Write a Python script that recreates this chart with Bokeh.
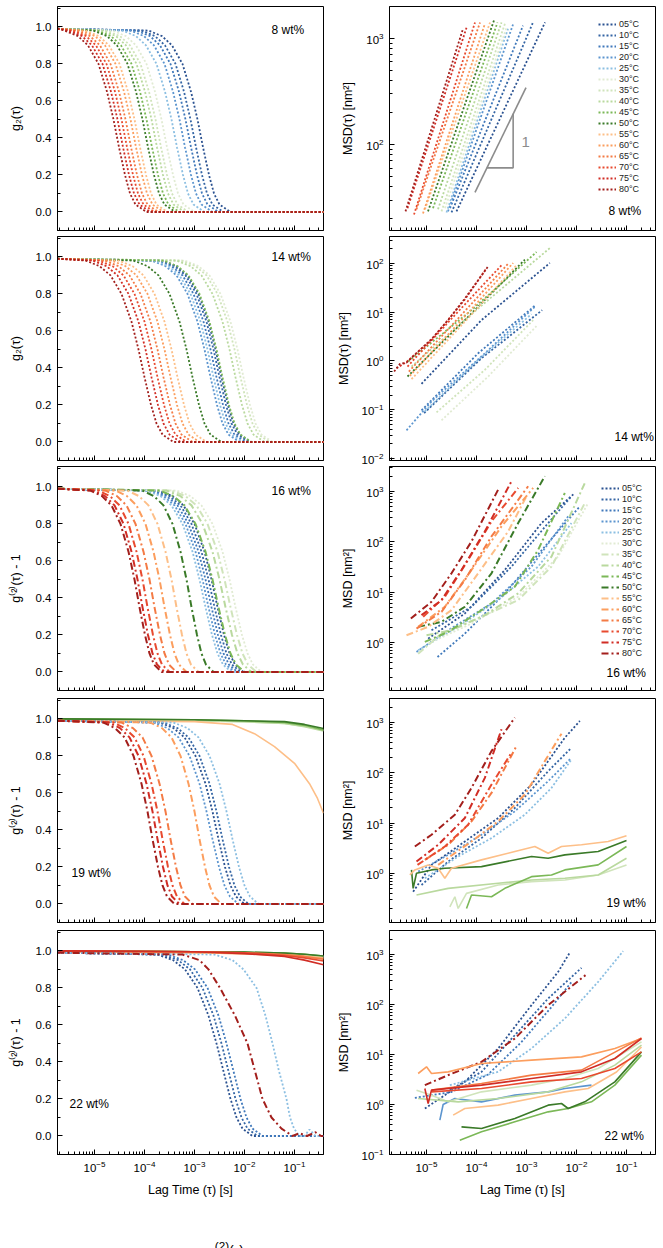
import numpy as np
from bokeh.plotting import figure
from bokeh.models import (Range1d, FixedTicker, Label, Legend, LegendItem,
                          PrintfTickFormatter, Div)
from bokeh.layouts import gridplot, column
from bokeh.embed import file_html
from bokeh.resources import INLINE

FONT = "Liberation Sans"
X_LO, X_HI = 10 ** -5.74, 10 ** -0.42

# ---------------------------------------------------------------- series keys
temps = ["05", "10", "15", "20", "25", "30", "35", "40",
         "45", "50", "55", "60", "65", "70", "75", "80"]
temp_colors = ["#2b5291", "#3465a4", "#4079bb", "#5c95cf", "#8cbfe2", "#e1ebd3",
               "#d0e4bb", "#b9d99e", "#7bb857", "#3a7a28", "#fdbf88", "#fc9e5e",
               "#f47b45", "#e84a2f", "#d12d25", "#a31f1c"]
COLOR = dict(zip(temps, temp_colors))

# ---------------------------------------------------------------- g2 decays
# lag times (log10 s) at which each curve crosses the levels below
g2_levels = [0.98, 0.95, 0.90, 0.80, 0.65, 0.50, 0.35, 0.20, 0.10, 0.04, 0.00]
g2_plateau = 0.99

g2_08_logtau = [
    [-3.92, -3.65, -3.45, -3.24, -3.07, -2.94, -2.83, -2.71, -2.61, -2.50, -2.28],
    [-4.06, -3.79, -3.59, -3.38, -3.21, -3.08, -2.97, -2.85, -2.75, -2.64, -2.42],
    [-4.16, -3.89, -3.69, -3.48, -3.31, -3.18, -3.07, -2.95, -2.85, -2.74, -2.52],
    [-4.28, -4.01, -3.81, -3.60, -3.43, -3.30, -3.19, -3.07, -2.97, -2.86, -2.64],
    [-4.44, -4.17, -3.97, -3.76, -3.59, -3.46, -3.35, -3.23, -3.13, -3.02, -2.80],
    [-4.64, -4.37, -4.17, -3.96, -3.79, -3.66, -3.55, -3.43, -3.33, -3.22, -3.00],
    [-4.76, -4.49, -4.29, -4.08, -3.91, -3.78, -3.67, -3.55, -3.45, -3.34, -3.12],
    [-4.84, -4.57, -4.37, -4.16, -3.99, -3.86, -3.75, -3.63, -3.53, -3.42, -3.20],
    [-4.94, -4.67, -4.47, -4.26, -4.09, -3.96, -3.85, -3.73, -3.63, -3.52, -3.30],
    [-5.02, -4.75, -4.55, -4.34, -4.17, -4.04, -3.93, -3.81, -3.71, -3.60, -3.38],
    [-5.18, -4.91, -4.71, -4.50, -4.33, -4.20, -4.09, -3.97, -3.87, -3.76, -3.54],
    [-5.26, -4.99, -4.79, -4.58, -4.41, -4.28, -4.17, -4.05, -3.95, -3.84, -3.62],
    [-5.36, -5.09, -4.89, -4.68, -4.51, -4.38, -4.27, -4.15, -4.05, -3.94, -3.72],
    [-5.44, -5.17, -4.97, -4.76, -4.59, -4.46, -4.35, -4.23, -4.13, -4.02, -3.80],
    [-5.52, -5.25, -5.05, -4.84, -4.67, -4.54, -4.43, -4.31, -4.21, -4.10, -3.88],
    [-5.60, -5.33, -5.13, -4.92, -4.75, -4.62, -4.51, -4.39, -4.29, -4.18, -3.96],
]

g2_14_logtau = [
    [-3.64, -3.36, -3.14, -2.92, -2.72, -2.58, -2.46, -2.33, -2.22, -2.10, -1.88],
    [-3.68, -3.40, -3.18, -2.96, -2.76, -2.62, -2.50, -2.37, -2.26, -2.14, -1.92],
    [-3.74, -3.46, -3.24, -3.02, -2.82, -2.68, -2.56, -2.43, -2.32, -2.20, -1.98],
    [-3.86, -3.58, -3.36, -3.14, -2.94, -2.80, -2.68, -2.55, -2.44, -2.32, -2.10],
    [-3.80, -3.52, -3.30, -3.08, -2.88, -2.74, -2.62, -2.49, -2.38, -2.26, -2.04],
    [-3.20, -2.92, -2.70, -2.48, -2.28, -2.14, -2.02, -1.89, -1.78, -1.66, -1.44],
    [-3.26, -2.98, -2.76, -2.54, -2.34, -2.20, -2.08, -1.95, -1.84, -1.72, -1.50],
    [-3.36, -3.08, -2.86, -2.64, -2.44, -2.30, -2.18, -2.05, -1.94, -1.82, -1.60],
    [-3.62, -3.34, -3.12, -2.90, -2.70, -2.56, -2.44, -2.31, -2.20, -2.08, -1.86],
    [-4.22, -3.94, -3.72, -3.50, -3.30, -3.16, -3.04, -2.91, -2.80, -2.68, -2.46],
    [-4.52, -4.24, -4.02, -3.80, -3.60, -3.46, -3.34, -3.21, -3.10, -2.98, -2.76],
    [-4.66, -4.38, -4.16, -3.94, -3.74, -3.60, -3.48, -3.35, -3.24, -3.12, -2.90],
    [-4.80, -4.52, -4.30, -4.08, -3.88, -3.74, -3.62, -3.49, -3.38, -3.26, -3.04],
    [-4.92, -4.64, -4.42, -4.20, -4.00, -3.86, -3.74, -3.61, -3.50, -3.38, -3.16],
    [-5.04, -4.76, -4.54, -4.32, -4.12, -3.98, -3.86, -3.73, -3.62, -3.50, -3.28],
    [-5.18, -4.90, -4.68, -4.46, -4.26, -4.12, -4.00, -3.87, -3.76, -3.64, -3.42],
]

g2_16_logtau = [
    [-3.72, -3.44, -3.22, -3.00, -2.80, -2.66, -2.54, -2.41, -2.30, -2.19, -2.02],
    [-3.78, -3.50, -3.28, -3.06, -2.86, -2.72, -2.60, -2.47, -2.36, -2.25, -2.08],
    [-3.84, -3.56, -3.34, -3.12, -2.92, -2.78, -2.66, -2.53, -2.42, -2.31, -2.14],
    [-3.90, -3.62, -3.40, -3.18, -2.98, -2.84, -2.72, -2.59, -2.48, -2.37, -2.20],
    [-3.96, -3.68, -3.46, -3.24, -3.04, -2.90, -2.78, -2.65, -2.54, -2.43, -2.26],
    [-3.36, -3.08, -2.86, -2.64, -2.44, -2.30, -2.18, -2.05, -1.94, -1.83, -1.66],
    [-3.46, -3.18, -2.96, -2.74, -2.54, -2.40, -2.28, -2.15, -2.04, -1.93, -1.76],
    [-3.56, -3.28, -3.06, -2.84, -2.64, -2.50, -2.38, -2.25, -2.14, -2.03, -1.86],
    [-3.70, -3.42, -3.20, -2.98, -2.78, -2.64, -2.52, -2.39, -2.28, -2.17, -2.00],
    [-4.04, -3.81, -3.62, -3.44, -3.28, -3.16, -3.06, -2.95, -2.86, -2.77, -2.62],
    [-4.34, -4.11, -3.92, -3.74, -3.58, -3.46, -3.36, -3.25, -3.16, -3.07, -2.92],
    [-4.58, -4.35, -4.16, -3.98, -3.82, -3.70, -3.60, -3.49, -3.40, -3.31, -3.16],
    [-4.78, -4.55, -4.36, -4.18, -4.02, -3.90, -3.80, -3.69, -3.60, -3.51, -3.36],
    [-4.92, -4.69, -4.50, -4.32, -4.16, -4.04, -3.94, -3.83, -3.74, -3.65, -3.50],
    [-5.02, -4.79, -4.60, -4.42, -4.26, -4.14, -4.04, -3.93, -3.84, -3.75, -3.60],
    [-5.08, -4.85, -4.66, -4.48, -4.32, -4.20, -4.10, -3.99, -3.90, -3.81, -3.66],
]

g2_19_temps = ["05", "10", "20", "25", "60", "65", "70", "75", "80"]
g2_19_logtau = [
    [-3.70, -3.42, -3.20, -2.98, -2.78, -2.64, -2.52, -2.39, -2.28, -2.17, -2.00],
    [-3.62, -3.34, -3.12, -2.90, -2.70, -2.56, -2.44, -2.31, -2.20, -2.09, -1.92],
    [-3.82, -3.54, -3.32, -3.10, -2.90, -2.76, -2.64, -2.51, -2.40, -2.29, -2.12],
    [-3.42, -3.14, -2.92, -2.70, -2.50, -2.36, -2.24, -2.11, -2.00, -1.89, -1.72],
    [-3.88, -3.65, -3.46, -3.28, -3.12, -3.00, -2.90, -2.79, -2.70, -2.61, -2.46],
    [-4.46, -4.23, -4.04, -3.86, -3.70, -3.58, -3.48, -3.37, -3.28, -3.19, -3.04],
    [-4.62, -4.39, -4.20, -4.02, -3.86, -3.74, -3.64, -3.53, -3.44, -3.35, -3.20],
    [-4.72, -4.49, -4.30, -4.12, -3.96, -3.84, -3.74, -3.63, -3.54, -3.45, -3.30],
    [-4.82, -4.59, -4.40, -4.22, -4.06, -3.94, -3.84, -3.73, -3.64, -3.55, -3.40],
]
# arrested samples at 19 wt%: barely decaying correlation
g2_19_flat_temps = ["35", "40", "45", "50"]
g2_19_flat_logt = [-5.74, -3.0, -2.0, -1.2, -0.8, -0.42]
g2_19_flat_g2 = [
    [0.995, 0.99, 0.985, 0.975, 0.960, 0.940],
    [0.995, 0.99, 0.985, 0.975, 0.958, 0.935],
    [1.000, 0.995, 0.990, 0.980, 0.965, 0.940],
    [1.000, 0.995, 0.990, 0.985, 0.970, 0.948],
]
g2_19_55_logt = [-5.74, -3.0, -2.24, -1.80, -1.40, -1.00, -0.70, -0.54, -0.42]
g2_19_55_g2 = [0.99, 0.985, 0.97, 0.92, 0.85, 0.76, 0.65, 0.57, 0.49]

g2_22_temps = ["05", "10", "15", "25", "80"]
g2_22_logtau = [
    [-3.74, -3.43, -3.19, -2.94, -2.72, -2.56, -2.42, -2.28, -2.16, -2.04, -1.84],
    [-3.64, -3.33, -3.09, -2.84, -2.62, -2.46, -2.32, -2.18, -2.06, -1.94, -1.74],
    [-3.54, -3.23, -2.99, -2.74, -2.52, -2.36, -2.22, -2.08, -1.96, -1.84, -1.64],
    [-2.60, -2.24, -2.02, -1.76, -1.58, -1.44, -1.31, -1.16, -1.09, -1.01, -0.90],
    [-3.24, -2.90, -2.72, -2.49, -2.19, -1.94, -1.79, -1.64, -1.46, -1.26, -1.04],
]
g2_22_tail_logt = {"25": [-0.80, -0.70, -0.58], "80": [-0.90, -0.75, -0.58, -0.47]}
g2_22_tail_g2 = {"25": [0.0, 0.035, 0.0], "80": [0.015, 0.0, 0.02, 0.0]}
g2_22_flat_temps = ["20", "35", "40", "45", "50", "55", "60", "65", "70", "75"]
g2_22_flat_logt = [-5.74, -3.0, -2.0, -1.2, -0.8, -0.42]
g2_22_flat_g2 = [
    [1.000, 0.995, 0.990, 0.980, 0.975, 0.965],
    [1.000, 0.995, 0.990, 0.985, 0.980, 0.970],
    [1.000, 0.995, 0.990, 0.985, 0.978, 0.968],
    [1.000, 0.995, 0.993, 0.988, 0.982, 0.972],
    [1.000, 0.995, 0.993, 0.988, 0.982, 0.972],
    [0.995, 0.990, 0.985, 0.978, 0.972, 0.962],
    [0.995, 0.990, 0.985, 0.975, 0.968, 0.958],
    [1.000, 0.995, 0.990, 0.980, 0.970, 0.955],
    [1.000, 0.995, 0.990, 0.975, 0.962, 0.945],
    [1.000, 0.995, 0.985, 0.970, 0.950, 0.925],
]

# ---------------------------------------------------------------- MSD curves
# log10 lag time [s] and log10 MSD [nm^2]
msd_08_logt = [
    [-4.40, -2.63], [-4.50, -2.87], [-4.53, -3.07], [-4.57, -3.27],
    [-4.60, -3.37], [-4.63, -3.40], [-4.70, -3.43], [-4.77, -3.50],
    [-4.87, -3.58], [-4.97, -3.65], [-5.03, -3.73], [-5.07, -3.83],
    [-5.20, -3.93], [-5.25, -4.03], [-5.38, -4.20], [-5.42, -4.27],
]
msd_08_logm = [
    [1.37, 3.15], [1.36, 3.15], [1.40, 3.12], [1.37, 3.13],
    [1.36, 3.09], [1.40, 3.10], [1.37, 3.14], [1.39, 3.15],
    [1.40, 3.15], [1.37, 3.17], [1.39, 3.15], [1.35, 3.14],
    [1.39, 3.15], [1.34, 3.15], [1.40, 3.10], [1.37, 3.09],
]
slope_line_logt = [-4.03, -3.01]
slope_line_logm = [1.55, 2.535]
slope_leg_logt = [-3.795, -3.267, -3.267]
slope_leg_logm = [1.78, 1.78, 2.29]

msd_14_logt = [
    [-5.10, -3.90, -2.533], [-5.047, -3.90, -2.687], [-5.10, -3.967, -2.82],
    [-5.40, -4.90, -3.833, -2.82], [-5.033, -3.967, -2.90], [-4.70, -3.767, -2.80],
    [-4.80, -3.833, -2.867], [-5.30, -3.967, -2.533], [-5.367, -4.10, -2.80],
    [-5.38, -4.233, -3.033], [-5.30, -4.233, -3.20], [-5.333, -4.30, -3.267],
    [-5.353, -4.367, -3.367], [-5.38, -4.433, -3.50],
    [-5.60, -5.40, -4.90, -4.233, -3.80],
    [-5.647, -5.533, -5.40, -5.167, -4.90, -4.567, -4.233, -3.967, -3.767],
]
msd_14_logm = [
    [-0.469, 0.837, 2.007], [-1.068, 0.055, 1.041], [-1.013, 0.157, 1.143],
    [-1.421, -0.83, 0.157, 1.123], [-1.034, 0.021, 0.96], [-1.217, -0.319, 0.715],
    [-1.054, -0.183, 0.837], [-0.115, 1.075, 2.313], [-0.013, 1.041, 2.232],
    [-0.319, 0.837, 2.075], [-0.374, 0.803, 1.96], [-0.306, 0.837, 2.007],
    [-0.217, 0.871, 1.994], [-0.115, 0.939, 1.96],
    [-0.15, -0.02, 0.43, 1.26, 1.90],
    [-0.217, -0.061, -0.034, 0.191, 0.449, 0.837, 1.279, 1.654, 1.939],
]

msd_16_logt = [
    [-4.967, -4.233, -3.433, -2.70, -2.033], [-4.90, -4.10, -3.30, -2.567, -2.10],
    [-4.78, -4.233, -3.433, -2.633, -1.933], [-5.20, -4.567, -3.70, -2.90, -2.167],
    [-5.167, -4.367, -3.567, -2.767, -2.10], [-4.967, -4.10, -3.167, -2.367, -1.767],
    [-5.167, -4.70, -3.90, -3.167, -2.50, -1.833], [-5.0, -4.50, -3.833, -3.167, -2.50, -1.833],
    [-5.033, -4.567, -3.90, -3.233, -2.767, -2.233], [-5.167, -4.70, -4.233, -3.70, -3.167, -2.633],
    [-5.40, -4.967, -4.50, -3.967, -3.367, -3.0], [-5.167, -4.633, -4.10, -3.50, -2.867],
    [-5.20, -4.70, -4.233, -3.70, -2.967], [-5.067, -4.633, -4.167, -3.70, -3.167],
    [-5.10, -4.70, -4.30, -3.833, -3.30], [-5.313, -4.90, -4.50, -4.10, -3.567],
]
msd_16_logm = [
    [0.073, 0.573, 1.44, 2.373, 2.973], [0.24, 0.707, 1.507, 2.373, 2.907],
    [-0.293, 0.173, 0.973, 1.907, 2.707], [-0.193, 0.24, 0.773, 1.507, 2.507],
    [-0.16, 0.307, 0.84, 1.507, 2.373], [-0.027, 0.373, 0.907, 1.707, 2.773],
    [-0.227, 0.173, 0.507, 0.84, 1.507, 2.773], [0.14, 0.24, 0.54, 0.973, 1.707, 3.173],
    [0.007, 0.207, 0.64, 1.107, 1.84, 2.973], [0.307, 0.407, 0.707, 1.373, 2.373, 3.307],
    [0.14, 0.307, 0.64, 1.373, 2.207, 2.907], [0.307, 0.707, 1.44, 2.307, 3.073],
    [0.273, 0.607, 1.24, 2.107, 3.107], [0.507, 0.907, 1.64, 2.407, 3.073],
    [0.54, 0.84, 1.44, 2.207, 3.207], [0.473, 0.807, 1.373, 2.007, 3.04],
]

msd_19_temps = ["05", "10", "20", "25", "35", "40", "45", "50", "55",
                "60", "65", "70", "75", "80"]
msd_19_logt = [
    [-5.267, -4.90, -4.233, -3.567, -2.90, -2.233, -1.933],
    [-5.10, -4.567, -3.90, -3.233, -2.567, -2.10],
    [-5.167, -4.567, -3.90, -3.233, -2.567, -2.10],
    [-5.033, -4.367, -3.70, -3.033, -2.50, -2.10],
    [-4.533, -4.433, -4.367, -4.20, -3.567, -2.90, -2.233, -1.567, -1.0],
    [-5.20, -4.567, -3.567, -2.90, -2.233, -1.567, -1.0],
    [-4.20, -4.10, -3.70, -3.433, -2.90, -2.50, -2.233, -1.567, -1.0],
    [-5.30, -5.267, -5.20, -4.90, -4.633, -3.90, -2.90, -2.567, -2.233, -1.567, -1.0],
    [-5.333, -5.233, -4.967, -4.767, -4.633, -4.50, -3.90, -3.233, -2.833, -2.567,
     -2.30, -1.90, -1.367, -1.0],
    [-4.767, -4.10, -3.567, -3.033, -2.633, -2.30],
    [-5.033, -4.567, -4.10, -3.70, -3.20],
    [-5.18, -4.633, -4.167, -3.70, -3.30],
    [-5.20, -4.767, -4.233, -3.833, -3.50],
    [-5.233, -4.90, -4.433, -4.10, -3.70, -3.233],
]
msd_19_logm = [
    [-0.367, 0.167, 0.633, 1.10, 1.767, 2.70, 3.033],
    [-0.233, 0.233, 0.70, 1.30, 2.033, 2.50],
    [0.033, 0.367, 0.767, 1.233, 1.833, 2.30],
    [-0.10, 0.333, 0.70, 1.167, 1.70, 2.267],
    [-0.667, -0.467, -0.70, -0.40, -0.233, -0.167, -0.133, -0.033, 0.167],
    [-0.433, -0.30, -0.20, -0.133, -0.10, -0.033, 0.30],
    [-0.70, -0.433, -0.467, -0.30, -0.067, -0.033, 0.067, 0.167, 0.533],
    [0.067, -0.30, 0.0, 0.067, 0.10, 0.133, 0.333, 0.30, 0.367, 0.433, 0.653],
    [-0.033, 0.067, 0.167, 0.10, -0.10, 0.10, 0.267, 0.433, 0.533, 0.40,
     0.533, 0.567, 0.633, 0.747],
    [0.167, 0.633, 1.033, 1.567, 2.233, 2.78],
    [0.267, 0.567, 1.033, 1.60, 2.533],
    [0.167, 0.533, 0.967, 1.767, 2.40],
    [0.233, 0.567, 1.10, 1.90, 2.867],
    [0.533, 0.767, 1.167, 1.70, 2.433, 3.10],
]

msd_22_temps = ["05", "10", "15", "25", "80", "20", "35", "40", "45", "50",
                "55", "60", "65", "70", "75"]
msd_22_logt = [
    [-5.033, -4.233, -3.567, -2.90, -2.367, -2.133],
    [-4.533, -3.90, -3.233, -2.567, -1.90],
    [-5.233, -4.50, -3.767, -3.10, -2.50, -2.10],
    [-4.533, -3.567, -2.90, -2.233, -1.567, -1.067],
    [-5.033, -4.567, -3.90, -3.233, -2.567, -1.82],
    [-4.733, -4.667, -4.433, -3.90, -3.233, -2.567, -2.233, -1.70],
    [-5.20, -4.90, -4.567, -3.90, -2.90, -2.233, -1.567, -0.70],
    [-5.167, -4.367, -3.567, -2.567, -1.90, -1.233, -0.70],
    [-4.333, -3.90, -3.233, -2.567, -2.167, -1.70, -1.233, -0.70],
    [-4.30, -3.90, -3.233, -2.567, -2.30, -2.167, -1.833, -1.233, -0.70],
    [-4.467, -4.233, -3.567, -2.90, -2.233, -1.767, -1.20, -0.70],
    [-5.167, -5.0, -4.90, -4.567, -3.90, -2.90, -1.90, -1.233, -0.70],
    [-4.90, -3.90, -2.90, -1.90, -0.70],
    [-4.90, -3.90, -2.90, -1.90, -1.233, -0.70],
    [-5.033, -4.967, -4.90, -3.90, -2.90, -1.90, -1.233, -0.70],
]
msd_22_logm = [
    [-0.08, 0.453, 1.12, 1.987, 2.653, 3.04],
    [0.287, 0.653, 1.387, 2.12, 2.733],
    [0.133, 0.25, 0.60, 1.25, 1.95, 2.45],
    [0.387, 0.653, 1.12, 1.72, 2.453, 3.067],
    [0.387, 0.587, 0.853, 1.32, 1.987, 2.587],
    [-0.313, 0.0, 0.12, 0.053, 0.187, 0.253, 0.32, 0.387],
    [0.287, 0.187, 0.053, 0.253, 0.387, 0.52, 0.72, 1.253],
    [0.12, 0.053, 0.12, 0.253, 0.453, 0.787, 1.187],
    [-0.713, -0.547, -0.347, -0.147, -0.08, 0.053, 0.387, 0.987],
    [-0.447, -0.48, -0.28, -0.013, 0.02, -0.08, 0.053, 0.453, 1.053],
    [-0.213, -0.08, -0.013, 0.12, 0.253, 0.32, 0.65, 1.15],
    [0.62, 0.753, 0.62, 0.653, 0.82, 0.887, 0.953, 1.12, 1.32],
    [0.287, 0.42, 0.587, 0.687, 1.333],
    [0.253, 0.32, 0.453, 0.52, 0.72, 1.053],
    [0.32, 0.02, 0.287, 0.387, 0.52, 0.653, 0.92, 1.32],
]

# ---------------------------------------------------------------- line styles
DOT = dict(line_dash="2 2", line_width=1.8)
DASHDOT = dict(line_dash="7 3 2 3", line_width=2.0)
SOLID = dict(line_width=1.6)


def style_16(t):
    return DOT if t <= "30" else DASHDOT


def style_19(t):
    if t <= "25":
        return DOT
    if t >= "60":
        return DASHDOT
    return SOLID


def style_22(t):
    if t in ("05", "10", "15", "25"):
        return DOT
    if t == "80":
        return DASHDOT
    return SOLID


# ---------------------------------------------------------------- layout
ROW_H = [233, 233, 228, 232, 310]
ROW_TOP = [6, 3, 0, 4, 4]
ROW_BOT = [3, 6, 4, 4, 82]


def log_ticker(lo, hi):
    major = [10.0 ** d for d in range(lo, hi + 1)]
    minor = [k * 10.0 ** d for d in range(lo - 1, hi + 1) for k in range(2, 10)]
    return FixedTicker(ticks=major, minor_ticks=minor)


def panel(row, col, y_range, ylabel, ydec=None):
    left = col == 0
    p = figure(width=330 if left else 333, height=ROW_H[row],
               x_axis_type="log", y_axis_type="linear" if ydec is None else "log",
               x_range=Range1d(X_LO, X_HI), y_range=Range1d(*y_range),
               output_backend="svg", toolbar_location=None,
               min_border_left=57 if left else 59, min_border_right=7 if left else 8,
               min_border_top=ROW_TOP[row], min_border_bottom=ROW_BOT[row])
    p.grid.visible = False
    p.outline_line_color = "black"
    p.outline_line_alpha = 1.0
    p.outline_line_width = 1
    p.background_fill_color = "white"
    p.border_fill_color = "white"
    p.xaxis.ticker = log_ticker(-5, -1)
    if ydec is None:
        p.yaxis.ticker = FixedTicker(ticks=[0.0, 0.2, 0.4, 0.6, 0.8, 1.0],
                                     minor_ticks=[-0.1, 0.1, 0.3, 0.5, 0.7, 0.9, 1.1])
        p.yaxis.formatter = PrintfTickFormatter(format="%.1f")
    else:
        p.yaxis.ticker = log_ticker(*ydec)
    for ax in p.axis:
        ax.axis_line_color = "black"
        ax.major_tick_in = 5
        ax.major_tick_out = 0
        ax.minor_tick_in = 3
        ax.minor_tick_out = 0
        ax.major_tick_line_color = "black"
        ax.minor_tick_line_color = "black"
        ax.major_label_text_font = FONT
        ax.major_label_text_font_size = "11.5px"
        ax.major_label_text_color = "black"
        ax.axis_label_text_font = FONT
        ax.axis_label_text_font_style = "normal"
        ax.axis_label_text_font_size = "12.5px"
        ax.axis_label_text_color = "black"
    p.yaxis.axis_label = ylabel
    p.yaxis.major_label_standoff = 6
    p.yaxis.axis_label_standoff = 10 if left else 8
    if row < 4:
        # the shared time axis is only labelled on the bottom row
        p.xaxis.major_label_text_font_size = "1px"
        p.xaxis.major_label_text_alpha = 0.0
        p.xaxis.major_label_standoff = 0
    else:
        p.xaxis.major_label_standoff = 6
        p.xaxis.axis_label = "Lag Time (τ) [s]"
        p.xaxis.axis_label_standoff = 8
    return p


def tag(p, text, x, y):
    p.add_layout(Label(x=x, y=y, text=text, text_font=FONT, text_font_size="12px",
                       text_align="left", text_baseline="middle", text_color="black"))


def g2_line(p, temp, logtau, style, tail_t=None, tail_y=None):
    xs = [X_LO] + [10.0 ** v for v in logtau]
    ys = [g2_plateau] + list(g2_levels)
    if tail_t:
        xs += [10.0 ** v for v in tail_t]
        ys += list(tail_y)
    xs.append(X_HI)
    ys.append(0.0)
    return p.line(xs, ys, line_color=COLOR[temp], **style)


def msd_line(p, temp, logt, logm, style):
    return p.line([10.0 ** v for v in logt], [10.0 ** v for v in logm],
                  line_color=COLOR[temp], **style)


def add_legend(p, renderers, x, y):
    items = [LegendItem(label=f"{t}°C", renderers=[r]) for t, r in zip(temps, renderers)]
    lg = Legend(items=items, location=(x, y), orientation="vertical",
                background_fill_alpha=0.0, border_line_alpha=0.0,
                padding=0, margin=0, spacing=1,
                glyph_width=18, glyph_height=10, label_height=10, label_standoff=3,
                label_text_font=FONT, label_text_font_size="9px",
                label_text_color="#222222")
    p.add_layout(lg)


G2_YR = (-0.1, 1.11)
G2_LAB_A = "g₂(τ)"
G2_LAB_B = "g⁽²⁾(τ) - 1"

# ---------------------------------------------------------------- 8 wt%
p1l = panel(0, 0, G2_YR, G2_LAB_A)
for t, lt in zip(temps, g2_08_logtau):
    g2_line(p1l, t, lt, DOT)
tag(p1l, "8 wt%", 10 ** -1.46, 0.984)

p1r = panel(0, 1, (10 ** 1.19, 10 ** 3.30), "MSD(τ) [nm²]", (2, 3))
r08 = [msd_line(p1r, t, a, b, DOT) for t, a, b in zip(temps, msd_08_logt, msd_08_logm)]
p1r.line([10.0 ** v for v in slope_line_logt], [10.0 ** v for v in slope_line_logm],
         line_color="#8c8c8c", line_width=1.6)
p1r.line([10.0 ** v for v in slope_leg_logt], [10.0 ** v for v in slope_leg_logm],
         line_color="#8c8c8c", line_width=1.6)
p1r.add_layout(Label(x=10 ** -3.1, y=10 ** 2.02, text="1", text_font=FONT,
                     text_font_size="15px", text_color="#8c8c8c",
                     text_align="left", text_baseline="middle"))
add_legend(p1r, r08, 209, 36)
tag(p1r, "8 wt%", 10 ** -1.36, 10 ** 1.37)

# ---------------------------------------------------------------- 14 wt%
p2l = panel(1, 0, G2_YR, G2_LAB_A)
for t, lt in zip(temps, g2_14_logtau):
    g2_line(p2l, t, lt, DOT)
tag(p2l, "14 wt%", 10 ** -1.46, 1.0)

p2r = panel(1, 1, (10 ** -2.04, 10 ** 2.55), "MSD(τ) [nm²]", (-2, 2))
for t, a, b in zip(temps, msd_14_logt, msd_14_logm):
    msd_line(p2r, t, a, b, DOT)
tag(p2r, "14 wt%", 10 ** -1.24, 10 ** -1.55)

# ---------------------------------------------------------------- 16 wt%
p3l = panel(2, 0, G2_YR, G2_LAB_B)
for t, lt in zip(temps, g2_16_logtau):
    g2_line(p3l, t, lt, style_16(t))
tag(p3l, "16 wt%", 10 ** -1.46, 0.98)

p3r = panel(2, 1, (10 ** -0.96, 10 ** 3.5), "MSD [nm²]", (0, 3))
r16 = [msd_line(p3r, t, a, b, style_16(t)) for t, a, b in zip(temps, msd_16_logt, msd_16_logm)]
add_legend(p3r, r16, 212, 32)
tag(p3r, "16 wt%", 10 ** -1.40, 10 ** -0.62)

# ---------------------------------------------------------------- 19 wt%
p4l = panel(3, 0, G2_YR, G2_LAB_B)
for t, ys in zip(g2_19_flat_temps, g2_19_flat_g2):
    p4l.line([10.0 ** v for v in g2_19_flat_logt], ys, line_color=COLOR[t], **SOLID)
p4l.line([10.0 ** v for v in g2_19_55_logt], g2_19_55_g2, line_color=COLOR["55"], **SOLID)
for t, lt in zip(g2_19_temps, g2_19_logtau):
    g2_line(p4l, t, lt, style_19(t))
tag(p4l, "19 wt%", 10 ** -5.46, 0.166)

p4r = panel(3, 1, (10 ** -0.98, 10 ** 3.48), "MSD [nm²]", (0, 3))
for t, a, b in zip(msd_19_temps, msd_19_logt, msd_19_logm):
    msd_line(p4r, t, a, b, style_19(t))
tag(p4r, "19 wt%", 10 ** -1.40, 10 ** -0.60)

# ---------------------------------------------------------------- 22 wt%
p5l = panel(4, 0, G2_YR, G2_LAB_B)
for t, ys in zip(g2_22_flat_temps, g2_22_flat_g2):
    p5l.line([10.0 ** v for v in g2_22_flat_logt], ys, line_color=COLOR[t], **SOLID)
for t, lt in zip(g2_22_temps, g2_22_logtau):
    g2_line(p5l, t, lt, style_22(t), g2_22_tail_logt.get(t), g2_22_tail_g2.get(t))
tag(p5l, "22 wt%", 10 ** -5.50, 0.171)

p5r = panel(4, 1, (10 ** -1.0, 10 ** 3.48), "MSD [nm²]", (-1, 3))
for t, a, b in zip(msd_22_temps, msd_22_logt, msd_22_logm):
    msd_line(p5r, t, a, b, style_22(t))
tag(p5r, "22 wt%", 10 ** -1.44, 10 ** -0.62)

grid = gridplot([[p1l, p1r], [p2l, p2r], [p3l, p3r], [p4l, p4r], [p5l, p5r]],
                toolbar_location=None)

# first line of the caption underneath, cut off by the page edge
caption = Div(
    text=("<div style=\"padding-left:207px; padding-top:2px; font-family:'Liberation Sans';"
          " font-size:14px; line-height:16px; color:#000; white-space:nowrap\">"
          "g<sup>(2)</sup>(τ)</div>"),
    width=663, height=12, margin=(0, 0, 0, 0), styles={"overflow": "hidden"})

open("out.html", "w").write(file_html(column(grid, caption), INLINE))
